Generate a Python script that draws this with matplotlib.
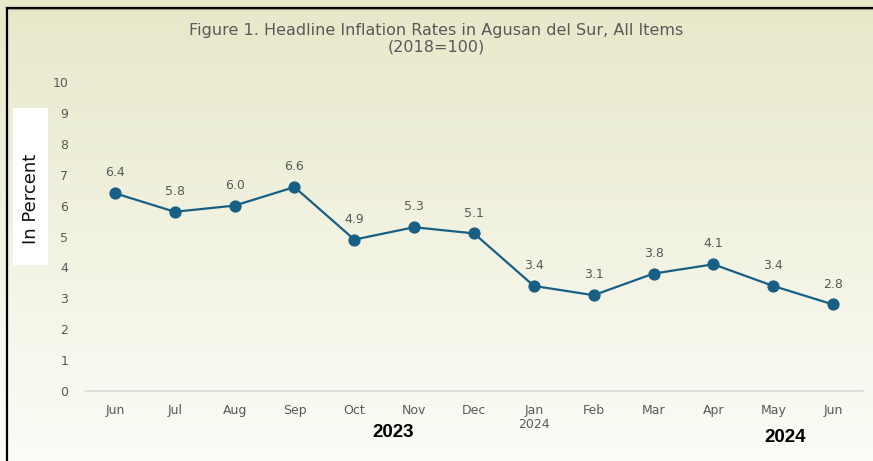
import numpy as np
import matplotlib.pyplot as plt
from matplotlib.patches import Rectangle
from matplotlib.lines import Line2D

months = ['Jun', 'Jul', 'Aug', 'Sep', 'Oct', 'Nov', 'Dec', 'Jan\n2024', 'Feb', 'Mar', 'Apr', 'May', 'Jun']
rates = [6.4, 5.8, 6.0, 6.6, 4.9, 5.3, 5.1, 3.4, 3.1, 3.8, 4.1, 3.4, 2.8]
yticks = [0, 1, 2, 3, 4, 5, 6, 7, 8, 9, 10]

W, H = 873, 461
fig = plt.figure(figsize=(W / 100, H / 100), dpi=100)

# background gradient
bg = fig.add_axes([0, 0, 1, 1], zorder=-10)
top = np.array([0.906, 0.910, 0.788])
bot = np.array([0.988, 0.988, 0.972])
t = np.linspace(0, 1, 200)[:, None]
grad = top + (bot - top) * t
bg.imshow(grad[:, None, :].repeat(2, axis=1), aspect='auto', extent=[0, 1, 0, 1], origin='upper')
bg.set_xlim(0, 1)
bg.set_ylim(0, 1)
bg.axis('off')

# frame lines
fig.add_artist(Line2D([7 / W, 1], [1 - 8 / H, 1 - 8 / H], color='black', lw=1.6, transform=fig.transFigure))
fig.add_artist(Line2D([7 / W, 1], [1 - 9.5 / H, 1 - 9.5 / H], color='#9a9a8a', lw=0.8, transform=fig.transFigure))
fig.add_artist(Line2D([7 / W, 7 / W], [0, 1 - 8 / H], color='black', lw=1.6, transform=fig.transFigure))

# white box behind y label
fig.add_artist(Rectangle((13 / W, 1 - 265 / H), 35 / W, 157 / H, facecolor='white',
                         edgecolor='none', transform=fig.transFigure))
fig.text(31 / W, 1 - 199 / H, 'In Percent', rotation=90, ha='center', va='center',
         fontsize=13, color='#111111', family='DejaVu Sans')

ax = fig.add_axes([85 / W, 70 / H, 778 / W, 309 / H])
ax.patch.set_alpha(0)
x = np.arange(len(months))
ax.plot(x, rates, color='#175f84', lw=1.6, marker='o', markersize=7.8, zorder=3)
for xi, v in zip(x, rates):
    ax.annotate(f'{v:.1f}', (xi, v), xytext=(0, 10), textcoords='offset points',
                ha='center', va='bottom', fontsize=9, color='#595959')

ax.set_xlim(-0.5, 12.5)
ax.set_ylim(0, 10)
ax.set_yticks(yticks)
ax.set_xticks(x)
ax.set_xticklabels(months)
for s in ['top', 'right', 'left']:
    ax.spines[s].set_visible(False)
ax.spines['bottom'].set_color('#d9d9d9')
ax.spines['bottom'].set_linewidth(1.2)
ax.tick_params(axis='both', length=0, labelsize=9, colors='#595959')
ax.tick_params(axis='y', pad=12)
ax.tick_params(axis='x', pad=9)
for lbl in ax.get_xticklabels():
    lbl.set_linespacing(1.1)

fig.text(0.5, 1 - 30 / H, 'Figure 1. Headline Inflation Rates in Agusan del Sur, All Items',
         ha='center', va='center', fontsize=11.5, color='#595959')
fig.text(0.5, 1 - 47 / H, '(2018=100)', ha='center', va='center', fontsize=11.5, color='#595959')

fig.text(393 / W, 1 - 432 / H, '2023', ha='center', va='center', fontsize=13.5,
         fontweight='bold', color='black', family='Liberation Sans')
fig.text(785 / W, 1 - 437 / H, '2024', ha='center', va='center', fontsize=13.5,
         fontweight='bold', color='black', family='Liberation Sans')

fig.savefig('out.png', dpi=100)
